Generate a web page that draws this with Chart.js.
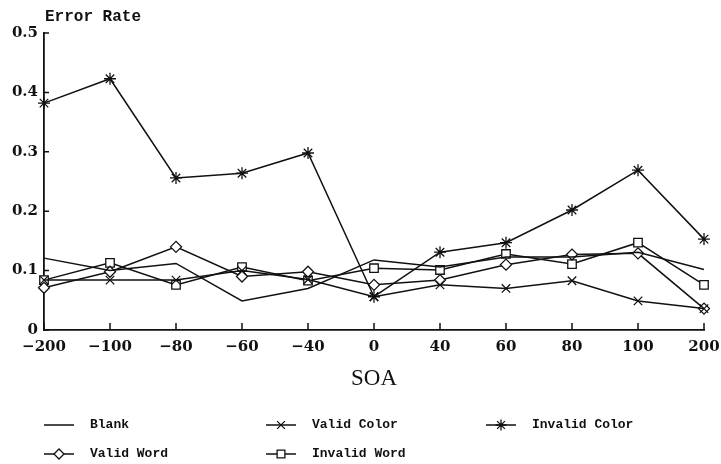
<!DOCTYPE html>
<html>
<head>
<meta charset="utf-8">
<script src="https://cdn.jsdelivr.net/npm/chart.js@4"></script>
<style>
  html, body { margin: 0; padding: 0; background: #fff; }
  canvas { display: block; }
</style>
</head>
<body>
<canvas id="c" width="721" height="464"></canvas>
<script>
// ---- data ----
const categories = ['\u2212200', '\u2212100', '\u221280', '\u221260', '\u221240', '0', '40', '60', '80', '100', '200'];
const yTickLabels = ['0', '0.1', '0.2', '0.3', '0.4', '0.5'];
const blank        = [0.121, 0.100, 0.112, 0.049, 0.070, 0.118, 0.106, 0.123, 0.123, 0.131, 0.102];
const validColor   = [0.084, 0.084, 0.084, 0.100, 0.085, 0.056, 0.076, 0.070, 0.083, 0.049, 0.036];
const invalidColor = [0.382, 0.423, 0.256, 0.264, 0.298, 0.056, 0.131, 0.147, 0.202, 0.269, 0.153];
const validWord    = [0.071, 0.098, 0.140, 0.090, 0.098, 0.076, 0.084, 0.110, 0.127, 0.129, 0.036];
const invalidWord  = [0.084, 0.113, 0.076, 0.106, 0.083, 0.104, 0.101, 0.128, 0.111, 0.147, 0.076];
const seriesNames  = ['Blank', 'Valid Color', 'Invalid Color', 'Valid Word', 'Invalid Word'];

const INK = '#111';

function ds(label, data, style, radius) {
  return {
    label, data,
    borderColor: INK, backgroundColor: '#fff',
    borderWidth: 1.5, tension: 0,
    pointStyle: style || 'circle',
    pointRadius: radius, pointHoverRadius: radius,
    pointBorderColor: INK, pointBackgroundColor: '#fff',
    pointBorderWidth: 1.3
  };
}

const datasets = [
  ds(seriesNames[0], blank, 'circle', 0),
  ds(seriesNames[1], validColor, 'crossRot', 6),
  ds(seriesNames[2], invalidColor, 'star', 6),
  ds(seriesNames[3], validWord, 'rectRot', 5.5),
  ds(seriesNames[4], invalidWord, 'rect', 6)
];

// inward tick marks, y-axis caption and custom legend
const decor = {
  id: 'decor',
  afterDraw(chart) {
    const ctx = chart.ctx;
    const xs = chart.scales.x, ys = chart.scales.y;
    const area = chart.chartArea;
    ctx.save();
    ctx.strokeStyle = INK;
    ctx.lineWidth = 1.5;
    ctx.beginPath();
    xs.ticks.forEach((t, i) => {
      const px = xs.getPixelForTick(i);
      ctx.moveTo(px, area.bottom);
      ctx.lineTo(px, area.bottom - 7);
    });
    ys.ticks.forEach((t, i) => {
      const py = ys.getPixelForTick(i);
      ctx.moveTo(area.left, py);
      ctx.lineTo(area.left + 5, py);
    });
    ctx.stroke();

    // caption above the y axis
    ctx.fillStyle = INK;
    ctx.font = 'bold 16px "Liberation Mono"';
    ctx.textBaseline = 'middle';
    ctx.textAlign = 'left';
    ctx.fillText('Error Rate', area.left + 1, 17);

    // legend
    const cols = [44, 266, 486];
    const rows = [425, 454];
    chart.data.datasets.forEach((d, i) => {
      const col = cols[i % 3];
      const row = rows[Math.floor(i / 3)];
      ctx.strokeStyle = INK;
      ctx.lineWidth = 1.5;
      ctx.beginPath();
      ctx.moveTo(col, row);
      ctx.lineTo(col + 30, row);
      ctx.stroke();
      if (d.pointRadius > 0) {
        ctx.fillStyle = '#fff';
        ctx.lineWidth = 1.3;
        Chart.helpers.drawPoint(ctx, { pointStyle: d.pointStyle, radius: d.pointRadius - 0.5, borderWidth: 1.3 }, col + 15, row);
      }
      ctx.fillStyle = INK;
      ctx.font = 'bold 13px "Liberation Mono"';
      ctx.textAlign = 'left';
      ctx.textBaseline = 'middle';
      ctx.fillText(d.label, col + 46, row);
    });
    ctx.restore();
  }
};

new Chart(document.getElementById('c'), {
  type: 'line',
  data: { labels: categories, datasets },
  plugins: [decor],
  options: {
    responsive: false,
    animation: false,
    devicePixelRatio: 1,
    layout: { padding: { left: 0, right: 17, top: 33, bottom: 70 } },
    plugins: { legend: { display: false }, tooltip: { enabled: false }, title: { display: false } },
    scales: {
      x: {
        type: 'category',
        offset: false,
        grid: { display: false, drawTicks: false },
        border: { display: true, color: INK, width: 1.8 },
        ticks: {
          color: INK, padding: 8, maxRotation: 0, autoSkip: false,
          font: { family: '"DejaVu Serif"', weight: 'bold', size: 15 }
        },
        title: {
          display: true, text: 'SOA', color: INK,
          font: { family: '"Liberation Serif"', size: 23 },
          padding: { top: 0, bottom: 1 }
        },
        afterFit(scale) { scale.height = 64; scale.paddingRight = 0; scale.paddingLeft = 0; }
      },
      y: {
        min: 0, max: 0.5,
        grid: { display: false, drawTicks: false },
        border: { display: true, color: INK, width: 1.8 },
        ticks: {
          stepSize: 0.1, color: INK, padding: 6,
          font: { family: '"DejaVu Serif"', weight: 'bold', size: 15 },
          callback: (v, i) => yTickLabels[i]
        },
        afterFit(scale) { scale.width = 44; }
      }
    }
  }
});
</script>
</body>
</html>
